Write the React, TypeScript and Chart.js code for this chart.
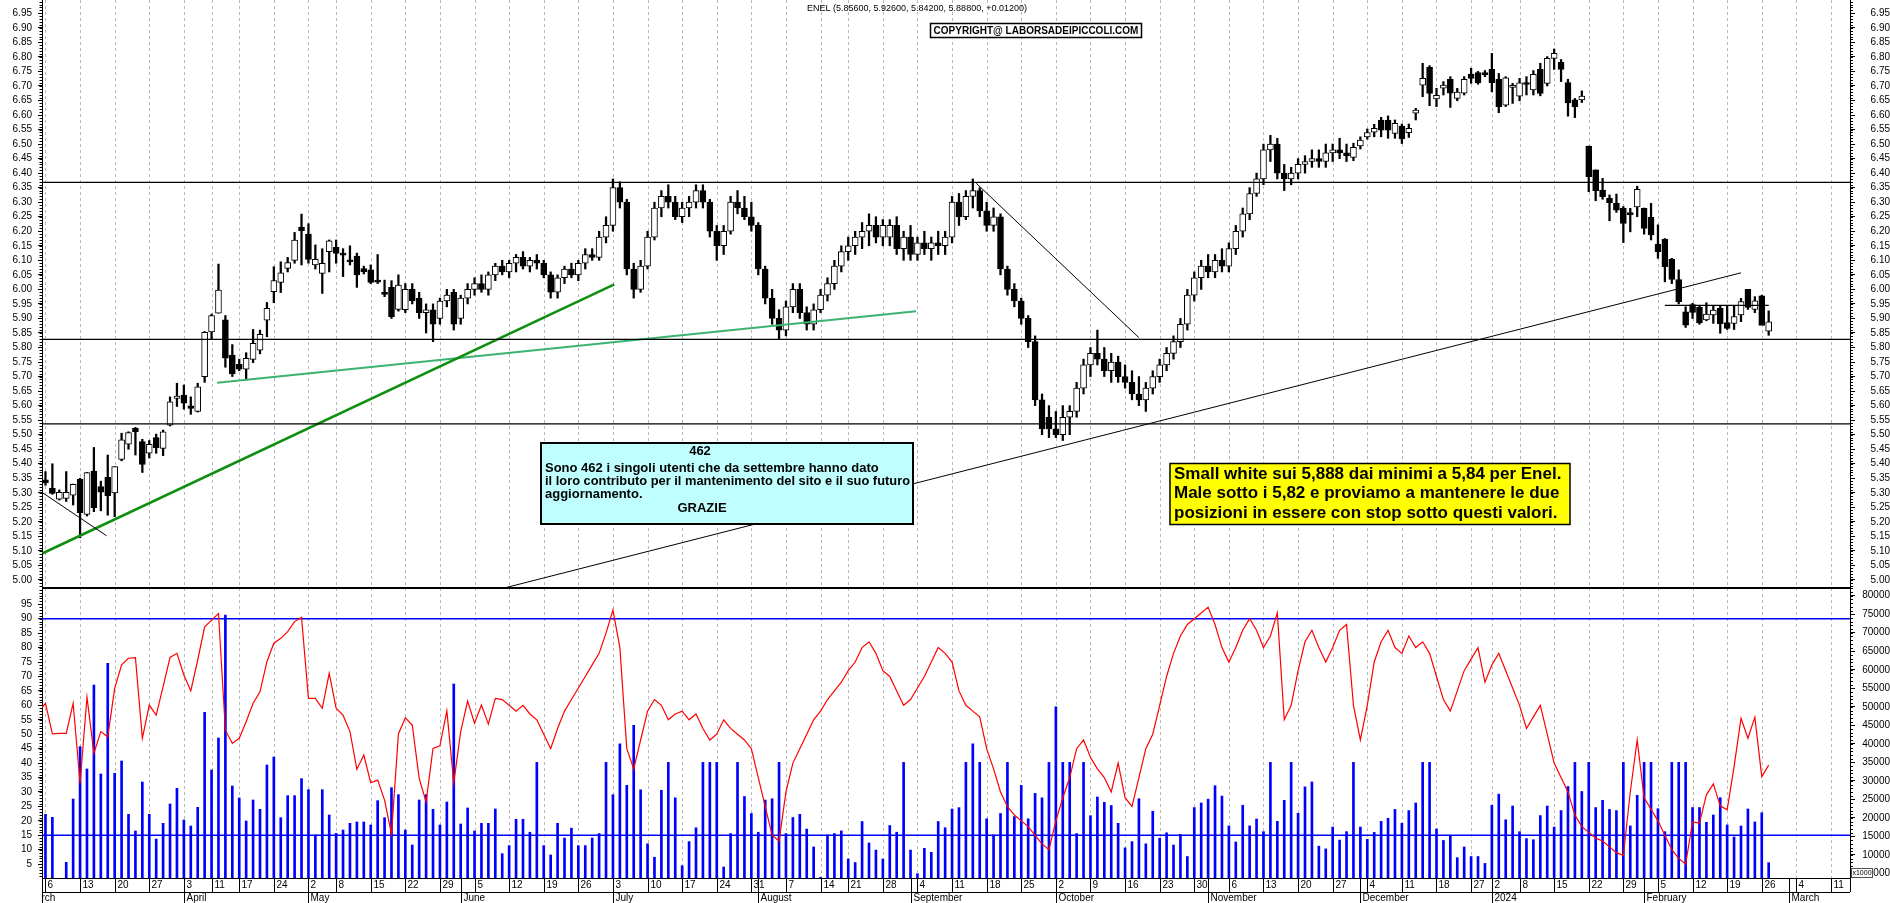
import { useEffect, useRef } from "react";
import { Chart, registerables } from "chart.js";

Chart.register(...registerables);

const FONT = "'Liberation Sans', Arial, Helvetica, sans-serif";

// ---------------- calendar (categories) ----------------
const AXIS_FIRST_DAY = "2023-03-01";
const FIRST_CANDLE_DAY = "2023-03-06";
const AXIS_LAST_DAY = "2024-03-15";
const MARKET_HOLIDAYS = ["2023-04-07", "2023-04-10", "2023-05-01", "2023-08-15", "2023-12-25", "2023-12-26", "2024-01-01"];
const MONTH_NAMES = ["January", "February", "March", "April", "May", "June", "July", "August", "September", "October", "November", "December"];

// ---------------- price series (one value per trading day from 2023-03-06) ----------------
const OPEN = [
  5.345, 5.315, 5.278, 5.281, 5.292, 5.346, 5.226, 5.375, 5.321, 5.353,
  5.30, 5.415, 5.467, 5.522, 5.476, 5.436, 5.49, 5.453, 5.533, 5.625,
  5.636, 5.599, 5.58, 5.70, 5.854, 5.918, 5.895, 5.774, 5.742, 5.725,
  5.759, 5.791, 5.894, 5.992, 6.024, 6.072, 6.10, 6.214, 6.19, 6.084,
  6.055, 6.13, 6.145, 6.122, 6.10, 6.115, 6.072, 6.067, 6.027, 5.985,
  6.007, 5.931, 5.93, 6.0, 5.97, 5.92, 5.93, 5.9, 5.96, 5.99,
  5.9, 5.97, 6.0, 6.02, 6.0, 6.05, 6.08, 6.06, 6.09, 6.11,
  6.08, 6.1, 6.09, 6.05, 5.99, 6.04, 6.07, 6.05, 6.09, 6.12,
  6.11, 6.18, 6.22, 6.35, 6.3, 6.07, 6.0, 6.08, 6.18, 6.28,
  6.32, 6.3, 6.25, 6.28, 6.3, 6.34, 6.3, 6.2, 6.15, 6.2,
  6.3, 6.28, 6.25, 6.22, 6.07, 5.97, 5.9, 5.86, 5.94, 6.0,
  5.92, 5.88, 5.93, 5.98, 6.02, 6.08, 6.13, 6.15, 6.18, 6.2,
  6.22, 6.18, 6.18, 6.22, 6.14, 6.18, 6.12, 6.16, 6.14, 6.16,
  6.15, 6.18, 6.3, 6.25, 6.32, 6.34, 6.27, 6.22, 6.25, 6.07,
  6.0, 5.96, 5.9, 5.82, 5.62, 5.56, 5.52, 5.5, 5.56, 5.58,
  5.66, 5.74, 5.78, 5.76, 5.72, 5.75, 5.7, 5.68, 5.64, 5.62,
  5.66, 5.7, 5.74, 5.78, 5.82, 5.88, 5.98, 6.04, 6.08, 6.06,
  6.1, 6.08, 6.14, 6.2, 6.26, 6.33, 6.38, 6.48, 6.5, 6.4,
  6.38, 6.4, 6.43, 6.44, 6.45, 6.44, 6.47, 6.48, 6.47, 6.454,
  6.494, 6.525, 6.541, 6.583, 6.582, 6.537, 6.562, 6.539, 6.606, 6.703,
  6.764, 6.655, 6.692, 6.723, 6.657, 6.675, 6.741, 6.746, 6.741, 6.757,
  6.723, 6.634, 6.695, 6.665, 6.712, 6.686, 6.757, 6.709, 6.795, 6.781,
  6.712, 6.652, 6.652, 6.493, 6.411, 6.342, 6.313, 6.296, 6.279, 6.259,
  6.284, 6.279, 6.248, 6.156, 6.172, 6.103, 6.034, 5.923, 5.948, 5.938,
  5.895, 5.912, 5.935, 5.886, 5.883, 5.912, 6.0, 5.931, 5.978, 5.856,
];
const HIGH = [
  5.373, 5.40, 5.31, 5.373, 5.33, 5.35, 5.37, 5.456, 5.34, 5.43,
  5.39, 5.505, 5.51, 5.525, 5.484, 5.48, 5.502, 5.516, 5.63, 5.677,
  5.671, 5.63, 5.677, 5.855, 5.915, 6.087, 5.91, 5.81, 5.76, 5.782,
  5.862, 5.86, 5.955, 6.078, 6.095, 6.11, 6.196, 6.259, 6.226, 6.153,
  6.14, 6.17, 6.17, 6.14, 6.15, 6.125, 6.08, 6.084, 6.12, 6.032,
  6.03, 6.05, 6.02, 6.02, 5.99, 5.95, 5.95, 5.97, 6.0, 6.0,
  5.98, 6.02, 6.04, 6.05, 6.06, 6.09, 6.1, 6.1, 6.12, 6.13,
  6.11, 6.12, 6.1, 6.06, 6.05, 6.08, 6.09, 6.1, 6.14, 6.14,
  6.2, 6.25, 6.38, 6.37, 6.31, 6.09, 6.1, 6.2, 6.3, 6.34,
  6.36, 6.32, 6.3, 6.32, 6.36, 6.36, 6.31, 6.22, 6.22, 6.32,
  6.34, 6.32, 6.3, 6.23, 6.08, 6.0, 5.93, 5.96, 6.02, 6.02,
  5.94, 5.95, 6.0, 6.04, 6.1, 6.15, 6.18, 6.2, 6.23, 6.26,
  6.25, 6.24, 6.24, 6.25, 6.2, 6.22, 6.18, 6.2, 6.18, 6.2,
  6.2, 6.32, 6.33, 6.34, 6.38, 6.35, 6.3, 6.28, 6.26, 6.08,
  6.02, 5.97, 5.91, 5.84, 5.64, 5.6, 5.58, 5.6, 5.6, 5.68,
  5.76, 5.8, 5.86, 5.8, 5.78, 5.77, 5.74, 5.72, 5.7, 5.68,
  5.72, 5.76, 5.8, 5.84, 5.9, 6.0, 6.06, 6.1, 6.12, 6.12,
  6.14, 6.16, 6.22, 6.28, 6.35, 6.4, 6.5, 6.53, 6.52, 6.43,
  6.42, 6.45, 6.46, 6.48, 6.48, 6.5, 6.5, 6.52, 6.5, 6.503,
  6.525, 6.552, 6.568, 6.592, 6.597, 6.583, 6.569, 6.569, 6.623, 6.778,
  6.77, 6.692, 6.715, 6.732, 6.692, 6.732, 6.761, 6.75, 6.753, 6.812,
  6.743, 6.732, 6.709, 6.726, 6.732, 6.753, 6.778, 6.801, 6.827, 6.791,
  6.723, 6.657, 6.683, 6.493, 6.411, 6.382, 6.325, 6.328, 6.285, 6.279,
  6.355, 6.28, 6.296, 6.222, 6.175, 6.107, 6.067, 5.94, 5.952, 5.943,
  5.954, 5.943, 5.943, 5.943, 5.943, 5.969, 6.0, 5.975, 5.98, 5.926,
];
const LOW = [
  5.326, 5.295, 5.275, 5.27, 5.258, 5.145, 5.22, 5.235, 5.238, 5.223,
  5.218, 5.41, 5.45, 5.43, 5.37, 5.42, 5.436, 5.428, 5.53, 5.597,
  5.588, 5.57, 5.578, 5.68, 5.83, 5.918, 5.732, 5.70, 5.72, 5.688,
  5.748, 5.778, 5.837, 5.954, 5.989, 6.06, 6.09, 6.084, 6.09, 6.07,
  5.986, 6.06, 6.09, 6.044, 6.084, 6.007, 6.053, 6.02, 6.02, 5.975,
  5.90, 5.925, 5.92, 5.95, 5.9, 5.85, 5.82, 5.88, 5.94, 5.86,
  5.88, 5.95, 5.98, 5.99, 5.98, 6.03, 6.05, 6.04, 6.06, 6.07,
  6.06, 6.07, 6.04, 5.97, 5.97, 6.02, 6.04, 6.03, 6.07, 6.1,
  6.1, 6.16, 6.2, 6.28, 6.05, 5.97, 5.99, 6.07, 6.17, 6.25,
  6.28, 6.24, 6.23, 6.25, 6.28, 6.28, 6.18, 6.1, 6.12, 6.19,
  6.26, 6.24, 6.2, 6.05, 5.95, 5.88, 5.83, 5.84, 5.92, 5.9,
  5.86, 5.86, 5.92, 5.96, 6.0, 6.06, 6.1, 6.12, 6.14, 6.15,
  6.16, 6.15, 6.15, 6.12, 6.1, 6.1, 6.1, 6.12, 6.1, 6.12,
  6.12, 6.16, 6.22, 6.24, 6.28, 6.25, 6.2, 6.2, 6.05, 5.98,
  5.94, 5.88, 5.8, 5.6, 5.5, 5.49, 5.49, 5.48, 5.5, 5.56,
  5.64, 5.7, 5.74, 5.7, 5.68, 5.68, 5.66, 5.62, 5.6, 5.58,
  5.64, 5.68, 5.72, 5.76, 5.8, 5.86, 5.96, 6.0, 6.04, 6.04,
  6.06, 6.06, 6.12, 6.18, 6.24, 6.32, 6.36, 6.44, 6.38, 6.34,
  6.36, 6.38, 6.4, 6.42, 6.42, 6.42, 6.44, 6.45, 6.44, 6.443,
  6.483, 6.517, 6.525, 6.525, 6.52, 6.52, 6.502, 6.523, 6.583, 6.663,
  6.632, 6.629, 6.669, 6.626, 6.649, 6.669, 6.709, 6.706, 6.732, 6.68,
  6.608, 6.629, 6.64, 6.649, 6.669, 6.669, 6.666, 6.70, 6.757, 6.715,
  6.596, 6.591, 6.643, 6.336, 6.305, 6.31, 6.236, 6.265, 6.161, 6.198,
  6.25, 6.19, 6.17, 6.107, 6.026, 6.02, 5.95, 5.869, 5.90, 5.88,
  5.892, 5.883, 5.849, 5.862, 5.862, 5.889, 5.931, 5.92, 5.88, 5.842,
];
const CLOSE = [
  5.335, 5.298, 5.302, 5.302, 5.329, 5.232, 5.37, 5.249, 5.302, 5.29,
  5.39, 5.482, 5.507, 5.51, 5.398, 5.467, 5.455, 5.51, 5.613, 5.633,
  5.608, 5.59, 5.665, 5.852, 5.91, 5.998, 5.763, 5.709, 5.725, 5.763,
  5.814, 5.845, 5.935, 6.03, 6.057, 6.092, 6.17, 6.202, 6.103, 6.103,
  6.09, 6.167, 6.124, 6.118, 6.095, 6.05, 6.061, 6.024, 6.025, 5.983,
  5.906, 6.015, 6.0, 5.96, 5.92, 5.93, 5.88, 5.96, 5.98, 5.88,
  5.97, 6.0, 6.02, 6.0, 6.05, 6.08, 6.06, 6.09, 6.11, 6.08,
  6.1, 6.09, 6.05, 5.99, 6.04, 6.07, 6.05, 6.09, 6.12, 6.11,
  6.18, 6.22, 6.35, 6.3, 6.07, 6.0, 6.08, 6.18, 6.28, 6.32,
  6.3, 6.25, 6.28, 6.3, 6.34, 6.3, 6.2, 6.15, 6.2, 6.3,
  6.28, 6.25, 6.22, 6.07, 5.97, 5.9, 5.86, 5.94, 6.0, 5.92,
  5.88, 5.93, 5.98, 6.02, 6.08, 6.13, 6.15, 6.18, 6.2, 6.22,
  6.18, 6.22, 6.22, 6.14, 6.18, 6.12, 6.16, 6.14, 6.16, 6.15,
  6.18, 6.3, 6.25, 6.32, 6.34, 6.27, 6.22, 6.25, 6.07, 6.0,
  5.96, 5.9, 5.82, 5.62, 5.52, 5.52, 5.5, 5.56, 5.58, 5.66,
  5.74, 5.78, 5.76, 5.72, 5.75, 5.7, 5.68, 5.64, 5.62, 5.66,
  5.7, 5.74, 5.78, 5.82, 5.88, 5.98, 6.04, 6.08, 6.06, 6.1,
  6.08, 6.14, 6.2, 6.26, 6.33, 6.38, 6.48, 6.5, 6.4, 6.38,
  6.4, 6.43, 6.44, 6.45, 6.44, 6.47, 6.48, 6.47, 6.46, 6.489,
  6.514, 6.54, 6.554, 6.548, 6.548, 6.571, 6.518, 6.554, 6.617, 6.726,
  6.674, 6.668, 6.703, 6.675, 6.679, 6.723, 6.726, 6.711, 6.739, 6.711,
  6.629, 6.728, 6.695, 6.711, 6.705, 6.74, 6.674, 6.795, 6.812, 6.757,
  6.642, 6.629, 6.665, 6.388, 6.34, 6.319, 6.298, 6.273, 6.227, 6.257,
  6.344, 6.21, 6.187, 6.13, 6.078, 6.034, 5.958, 5.877, 5.921, 5.885,
  5.915, 5.929, 5.881, 5.866, 5.906, 5.958, 5.938, 5.961, 5.876, 5.888,
];
const VOLUME = [
  20970, 20160, 3000, 8010, 25110, 39240, 33210, 55890, 31860, 61740,
  32040, 35370, 20970, 16470, 29700, 20970, 14310, 18540, 23760, 27990,
  19440, 17820, 22860, 48500, 32940, 41580, 74790, 28620, 25380, 19170,
  24840, 22320, 34290, 36450, 20070, 26010, 26010, 30600, 27630, 15390,
  27630, 20790, 15840, 16740, 18540, 18900, 18900, 18090, 24660, 20070,
  28170, 26280, 16740, 12690, 24840, 26280, 22320, 18090, 24300, 56160,
  18360, 22680, 16470, 18540, 18540, 22410, 10360, 12530, 19640, 19640,
  16140, 35000, 12530, 10000, 18550, 14570, 17230, 12530, 12530, 14570,
  15780, 35000, 26260, 40000, 28800, 45000, 27590, 13010, 9390, 27470,
  35000, 25420, 7100, 13610, 17350, 35000, 35000, 35000, 6740, 15780,
  35000, 25780, 21200, 16140, 24820, 25180, 35000, 15780, 20120, 20960,
  16980, 12160, 3970, 15420, 15780, 16500, 8910, 7950, 19030, 13250,
  11320, 8910, 17950, 16140, 35000, 11320, 4930, 11800, 10720, 19030,
  17350, 22410, 22770, 35000, 40000, 35000, 19760, 15420, 21200, 35000,
  20360, 28790, 19760, 26620, 25420, 35000, 50000, 35000, 35000, 15780,
  35000, 20600, 25660, 24210, 23370, 18550, 11920, 13610, 25180, 13010,
  21800, 14540, 15980, 12680, 15570, 9580, 22800, 24040, 25070, 28690,
  25900, 17840, 13500, 23420, 17840, 19700, 16290, 35000, 19080, 24760,
  35000, 21250, 28380, 29720, 12370, 11650, 17530, 14020, 16290, 35000,
  17530, 14230, 16090, 19080, 19910, 22290, 18570, 21980, 24040, 35000,
  35000, 17020, 13920, 15260, 9270, 12160, 9580, 9580, 7720, 23420,
  26420, 19500, 23220, 16290, 14430, 14120, 20630, 23220, 17530, 21980,
  28480, 35000, 27140, 35000, 22800, 24760, 22290, 21980, 35000, 17840,
  26110, 35000, 35000, 22490, 16290, 35000, 35000, 35000, 22800, 22800,
  18820, 20790, 25460, 18090, 14850, 17810, 22410, 18910, 21410, 7910,
];
// oscillator: first value belongs to the trading day before the first candle
const OSC_FIRST_INDEX = -1;
const OSC = [
  57.8,
  60.7, 50.1, 50.3, 50.3, 60.7, 33, 62.8, 43.4, 50.9, 49.1,
  65.9, 74, 76.3, 76.5, 48.6, 60.1, 56.6, 66.5, 76.6, 78,
  70.5, 65, 75.7, 87.2, 89.5, 91.8, 51.4, 46.8, 48.6, 54.3,
  60.7, 64.7, 75.1, 81.5, 83.2, 85.5, 89, 90.5, 62.4, 62.4,
  59, 71.1, 59, 56.6, 50.9, 37.8, 42.8, 33.2, 34.1, 27.2,
  15.4, 50.1, 55.7, 53.2, 34.7, 26.6, 45.1, 46, 58.1, 33.2,
  50.9, 61.5, 53.8, 60.1, 53.5, 62.4, 62, 60, 58, 60,
  57, 55, 50, 45, 52, 58, 62, 66, 70, 74,
  78, 85, 93, 80, 45, 38, 48, 58, 62, 60,
  55, 57, 58, 55, 57, 52, 48, 50, 55, 52,
  50, 48, 45, 35, 25, 15, 13, 30, 40, 45,
  50, 55, 58, 62, 65, 68, 72, 75, 80, 82,
  78, 72, 70, 65, 60, 62, 66, 70, 75, 80,
  78, 75, 65, 60, 58, 56, 45, 38, 30, 25,
  22, 20, 18, 15, 12, 10, 20, 28, 35, 45,
  48, 42, 38, 35, 30, 40, 28, 25, 35, 45,
  50, 60, 70, 78, 84, 88, 90, 92, 94, 88,
  80, 75, 80, 86, 90, 86, 80, 84, 92, 55,
  60, 72, 82, 86, 80, 75, 80, 86, 88, 60,
  48, 60, 75, 82, 86, 80, 78, 84, 80, 82,
  78, 70, 62, 58, 65, 72, 76, 80, 68, 74,
  78, 72, 66, 60, 52, 56, 60, 50, 40, 35,
  30, 22, 18, 16, 14, 13, 11, 9, 8, 30,
  48, 28, 24, 20, 15, 10, 7, 5, 19.6, 19.2,
  29, 32.8, 25.2, 23.8, 38.8, 55.5, 48.6, 55.9, 35.3, 39.3,
];

// ---------------- drawn levels and trend lines (data units: day index, value) ----------------
const PRICE_LEVELS = [6.368, 5.828, 5.537];
const OSC_LEVELS = [90, 15];
const VOL_TICK_STEP = 5000;
const TREND_LINES = [
  { from: [-0.4, 5.3], to: [8.84, 5.152], color: "#000000", width: 1 },
  { from: [-0.4, 5.092], to: [82.2, 6.017], color: "#0f8f0f", width: 2.5 },
  { from: [24.8, 5.679], to: [125.8, 5.925], color: "#3cb371", width: 2 },
  { from: [134.5, 6.365], to: [158, 5.834], color: "#000000", width: 1 },
  { from: [66.3, 4.9724], to: [245, 6.057], color: "#000000", width: 1 },
  { from: [234, 5.945], to: [249, 5.945], color: "#000000", width: 1.2 },
];

const TITLE = "ENEL (5.85600, 5.92600, 5.84200, 5.88800, +0.01200)";
const COPYRIGHT = "COPYRIGHT@ LABORSADEIPICCOLI.COM";
const NOTE_CYAN = ["462", "Sono 462 i singoli utenti che da settembre hanno dato", "il loro contributo per il mantenimento del sito e il suo futuro", "aggiornamento.", "GRAZIE"];
const NOTE_YELLOW = ["Small white sui 5,888 dai minimi a 5,84 per Enel.", "Male sotto i 5,82 e proviamo a mantenere le due", "posizioni in essere con stop sotto questi valori."];

// ---------------- axis ranges ----------------
const X_MIN = -0.5;
const X_MAX = 260.75;
const PRICE_MIN = 4.9724;
const PRICE_MAX = 6.9958;
const OSC_MIN = 0.21;
const OSC_MAX = 100.63;
const VOL_MIN = 3779;
const VOL_MAX = 82079;

type AxisDay = { idx: number; day: number; month: number; year: number; weekStart: boolean; monthStart: boolean };

function isoKey(d: Date) {
  return d.toISOString().slice(0, 10);
}
function mondayKey(d: Date) {
  const t = new Date(d.getTime());
  t.setUTCDate(t.getUTCDate() - ((t.getUTCDay() + 6) % 7));
  return isoKey(t);
}
function buildAxisDays(): AxisDay[] {
  const hol = new Set(MARKET_HOLIDAYS);
  const list: Date[] = [];
  const d = new Date(AXIS_FIRST_DAY + "T00:00:00Z");
  const end = new Date(AXIS_LAST_DAY + "T00:00:00Z");
  while (d.getTime() <= end.getTime()) {
    const wd = d.getUTCDay();
    if (wd !== 0 && wd !== 6 && !hol.has(isoKey(d))) list.push(new Date(d.getTime()));
    d.setUTCDate(d.getUTCDate() + 1);
  }
  const first = list.findIndex((x) => isoKey(x) === FIRST_CANDLE_DAY);
  return list.map((x, k) => {
    const prev = k > 0 ? list[k - 1] : null;
    return {
      idx: k - first,
      day: x.getUTCDate(),
      month: x.getUTCMonth(),
      year: x.getUTCFullYear(),
      weekStart: !prev || mondayKey(prev) !== mondayKey(x),
      monthStart: !prev || prev.getUTCMonth() !== x.getUTCMonth(),
    };
  });
}

function drawMinorTicks(ctx: CanvasRenderingContext2D, scale: any, step: number, len: number, side: "left" | "right") {
  const n0 = Math.ceil(scale.min / step - 1e-9);
  const n1 = Math.floor(scale.max / step + 1e-9);
  ctx.save();
  ctx.strokeStyle = "#000";
  ctx.lineWidth = 1;
  ctx.beginPath();
  for (let n = n0; n <= n1; n++) {
    const y = Math.round(scale.getPixelForValue(n * step)) + 0.5;
    if (side === "left") {
      ctx.moveTo(scale.right - len, y);
      ctx.lineTo(scale.right, y);
    } else {
      ctx.moveTo(scale.left, y);
      ctx.lineTo(scale.left + len, y);
    }
  }
  ctx.stroke();
  ctx.restore();
}

function weekGridPlugin(days: AxisDay[]) {
  return {
    id: "weekGrid",
    beforeDatasetsDraw(chart: any) {
      const { ctx, chartArea, scales } = chart;
      ctx.save();
      ctx.strokeStyle = "#b8b8b8";
      ctx.lineWidth = 1;
      ctx.setLineDash([3, 3]);
      ctx.beginPath();
      for (const d of days) {
        if (!d.weekStart) continue;
        const x = Math.round(scales.x.getPixelForValue(d.idx)) + 0.5;
        if (x <= chartArea.left + 1 || x >= chartArea.right - 1) continue;
        ctx.moveTo(x, chartArea.top);
        ctx.lineTo(x, chartArea.bottom);
      }
      ctx.stroke();
      ctx.restore();
    },
  };
}

function valueAxis(position: "left" | "right", min: number, max: number, step: number, fmt: (v: number) => string, extra: any = {}) {
  const left = position === "left";
  return {
    type: "linear",
    axis: "y",
    position,
    min,
    max,
    beginAtZero: false,
    afterFit(s: any) {
      s.width = left ? 42 : 40;
      s.paddingTop = 0;
      s.paddingBottom = 0;
    },
    ticks: {
      stepSize: step,
      autoSkip: false,
      includeBounds: false,
      padding: left ? 6 : extra.padding,
      crossAlign: left ? "near" : "far",
      color: "#000",
      font: { family: FONT, size: 10 },
      callback: (v: any) => fmt(Number(v)),
    },
    grid: { drawOnChartArea: false, drawTicks: true, tickLength: left ? 4 : 5, tickColor: "#000", tickWidth: 1 },
    border: { display: true, color: "#000", width: 1 },
    ...(extra.afterBuildTicks ? { afterBuildTicks: extra.afterBuildTicks } : {}),
  };
}

export default function App() {
  const topRef = useRef<HTMLCanvasElement>(null);
  const botRef = useRef<HTMLCanvasElement>(null);

  useEffect(() => {
    if (!topRef.current || !botRef.current) return;
    Chart.defaults.font.family = FONT;
    const days = buildAxisDays();
    const n = Math.min(OPEN.length, HIGH.length, LOW.length, CLOSE.length);
    const idx = Array.from({ length: n }, (_, i) => i);

    const wickData = idx.map((i) => ({ x: i, y: [LOW[i], HIGH[i]] }));
    const bodyData = idx.map((i) => ({ x: i, y: [Math.min(OPEN[i], CLOSE[i]), Math.max(OPEN[i], CLOSE[i])] }));
    const bodyColors = idx.map((i) => (CLOSE[i] >= OPEN[i] ? "#ffffff" : "#000000"));

    const lineDs = (data: any[], color: string, width: number, yAxisID: string, order: number) => ({
      type: "line",
      data,
      borderColor: color,
      borderWidth: width,
      pointRadius: 0,
      tension: 0,
      fill: false,
      yAxisID,
      order,
    });

    const topDatasets: any[] = [
      ...PRICE_LEVELS.map((v) => lineDs([{ x: X_MIN, y: v }, { x: X_MAX, y: v }], "#000000", 1.3, "yPrice", 0)),
      ...TREND_LINES.map((t) => lineDs([{ x: t.from[0], y: t.from[1] }, { x: t.to[0], y: t.to[1] }], t.color, t.width, "yPrice", 0)),
      {
        type: "bar",
        data: bodyData,
        backgroundColor: bodyColors,
        borderColor: "#000000",
        borderWidth: 1,
        borderSkipped: false,
        barThickness: 6,
        minBarLength: 2,
        grouped: false,
        yAxisID: "yPrice",
        order: 1,
      },
      {
        type: "bar",
        data: wickData,
        backgroundColor: "#000000",
        barThickness: 1.6,
        grouped: false,
        yAxisID: "yPrice",
        order: 2,
      },
    ];

    const topOverlay = {
      id: "topOverlay",
      afterDraw(chart: any) {
        const { ctx, scales, chartArea } = chart;
        drawMinorTicks(ctx, scales.yPrice, 0.01, 2.5, "left");
        drawMinorTicks(ctx, scales.yPrice2, 0.01, 3, "right");
        ctx.save();
        ctx.strokeStyle = "#000";
        ctx.lineWidth = 1;
        ctx.beginPath();
        ctx.moveTo(chartArea.left, chartArea.bottom - 0.5);
        ctx.lineTo(chartArea.right, chartArea.bottom - 0.5);
        ctx.stroke();

        ctx.fillStyle = "#000";
        ctx.textBaseline = "middle";
        ctx.textAlign = "left";
        ctx.font = `9px ${FONT}`;
        ctx.fillText(TITLE, 807, 8.5);

        // copyright label
        ctx.fillStyle = "#ffffff";
        ctx.fillRect(930.5, 23.5, 211, 14);
        ctx.lineWidth = 1.5;
        ctx.strokeRect(930.5, 23.5, 211, 14);
        ctx.fillStyle = "#000";
        ctx.font = `bold 10px ${FONT}`;
        ctx.textAlign = "center";
        ctx.fillText(COPYRIGHT, 1036, 31);

        // cyan note
        ctx.fillStyle = "#c0ffff";
        ctx.fillRect(541, 443, 372, 81);
        ctx.lineWidth = 2;
        ctx.strokeStyle = "#000";
        ctx.strokeRect(541, 443, 372, 81);
        ctx.fillStyle = "#000";
        ctx.font = `bold 13px ${FONT}`;
        ctx.textAlign = "center";
        ctx.fillText(NOTE_CYAN[0], 700, 451);
        ctx.textAlign = "left";
        ctx.fillText(NOTE_CYAN[1], 545, 468, 365);
        ctx.fillText(NOTE_CYAN[2], 545, 481.3, 365);
        ctx.fillText(NOTE_CYAN[3], 545, 494.6, 365);
        ctx.textAlign = "center";
        ctx.fillText(NOTE_CYAN[4], 702, 508);

        // yellow note
        ctx.fillStyle = "#ffff00";
        ctx.fillRect(1170, 463.5, 400, 61);
        ctx.lineWidth = 1.5;
        ctx.strokeRect(1170, 463.5, 400, 61);
        ctx.fillStyle = "#000";
        ctx.font = `bold 17px ${FONT}`;
        ctx.textAlign = "left";
        NOTE_YELLOW.forEach((t, k) => ctx.fillText(t, 1174, 474 + k * 19.5, 393));
        ctx.restore();
      },
    };

    const top = new Chart(topRef.current, {
      type: "bar",
      data: { datasets: topDatasets },
      options: {
        animation: false,
        responsive: false,
        events: [],
        layout: { padding: 0 },
        plugins: { legend: { display: false }, tooltip: { enabled: false } },
        scales: {
          x: { type: "linear", axis: "x", display: false, min: X_MIN, max: X_MAX, offset: false },
          yPrice: valueAxis("left", PRICE_MIN, PRICE_MAX, 0.05, (v) => v.toFixed(2)),
          yPrice2: valueAxis("right", PRICE_MIN, PRICE_MAX, 0.05, (v) => v.toFixed(2), { padding: 13.5 }),
        },
      } as any,
      plugins: [weekGridPlugin(days), topOverlay],
    } as any);

    // ---------- lower panel ----------
    const volData = idx.filter((i) => i < VOLUME.length).map((i) => ({ x: i, y: VOLUME[i] }));
    const oscData = OSC.map((v, k) => ({ x: k + OSC_FIRST_INDEX, y: v }));
    const botDatasets: any[] = [
      lineDs(oscData, "#ff0000", 1.2, "yOsc", 0),
      ...OSC_LEVELS.map((v) => lineDs([{ x: X_MIN, y: v }, { x: X_MAX, y: v }], "#0000ff", 1.5, "yOsc", 1)),
      {
        type: "bar",
        data: volData,
        backgroundColor: "#0000ff",
        barThickness: 2,
        grouped: false,
        yAxisID: "yVol",
        order: 2,
      },
    ];

    const dateAxis = {
      id: "dateAxis",
      afterDraw(chart: any) {
        const { ctx, scales, chartArea } = chart;
        drawMinorTicks(ctx, scales.yOsc, 1, 2.5, "left");
        drawMinorTicks(ctx, scales.yVol, 1000, 3, "right");
        const L = chartArea.left;
        const R = chartArea.right;
        const B = chartArea.bottom;
        const row = B + 14;
        const H = chart.height;
        const seg = (x1: number, y1: number, x2: number, y2: number) => {
          ctx.beginPath();
          ctx.moveTo(x1, y1);
          ctx.lineTo(x2, y2);
          ctx.stroke();
        };
        ctx.save();
        ctx.strokeStyle = "#000";
        ctx.lineWidth = 1;
        seg(L, 0.5, R, 0.5);
        seg(L, B + 0.5, R, B + 0.5);
        seg(L, row + 0.5, R, row + 0.5);
        seg(L + 0.5, B, L + 0.5, H);
        seg(R + 0.5, B, R + 0.5, row);

        // x1000 tag
        ctx.fillStyle = "#ffffff";
        ctx.fillRect(1851.5, 280.5, 21, 9);
        ctx.strokeStyle = "#505050";
        ctx.strokeRect(1851.5, 280.5, 21, 9);
        ctx.fillStyle = "#000";
        ctx.font = `7px ${FONT}`;
        ctx.textAlign = "center";
        ctx.textBaseline = "middle";
        ctx.fillText("x1000", 1862, 285.5);

        ctx.beginPath();
        ctx.rect(L, B, R - L, H - B);
        ctx.clip();
        ctx.strokeStyle = "#000";
        ctx.font = `10px ${FONT}`;
        ctx.textAlign = "left";
        for (const d of days) {
          const px = Math.round(scales.x.getPixelForValue(d.idx)) + 0.5;
          if (d.weekStart) {
            seg(px, B, px, row);
            ctx.fillText(String(d.day), px + 2, B + 7.5);
          }
          if (d.monthStart) {
            seg(px, B, px, H);
            const label = d.month === 0 ? String(d.year) : MONTH_NAMES[d.month];
            ctx.fillText(label, px + 2, row + 6);
          }
        }
        ctx.restore();
      },
    };

    const bot = new Chart(botRef.current, {
      type: "bar",
      data: { datasets: botDatasets },
      options: {
        animation: false,
        responsive: false,
        events: [],
        layout: { padding: { left: 0, right: 0, top: 0, bottom: 25 } },
        plugins: { legend: { display: false }, tooltip: { enabled: false } },
        scales: {
          x: { type: "linear", axis: "x", display: false, min: X_MIN, max: X_MAX, offset: false },
          yOsc: valueAxis("left", OSC_MIN, OSC_MAX, 5, (v) => String(Math.round(v)), {
            afterBuildTicks: (s: any) => {
              s.ticks = s.ticks.filter((t: any) => t.value >= 5 && t.value <= 95);
            },
          }),
          yVol: valueAxis("right", VOL_MIN, VOL_MAX, VOL_TICK_STEP, (v) => String(Math.round(v)), {
            padding: 5.2,
            afterBuildTicks: (s: any) => {
              const ticks: any[] = [];
              for (let v = Math.ceil(VOL_MIN / VOL_TICK_STEP) * VOL_TICK_STEP; v <= VOL_MAX; v += VOL_TICK_STEP) ticks.push({ value: v });
              s.ticks = ticks;
            },
          }),
        },
      } as any,
      plugins: [weekGridPlugin(days), dateAxis],
    } as any);

    return () => {
      top.destroy();
      bot.destroy();
    };
  }, []);

  return (
    <div style={{ position: "absolute", left: 0, top: 0, width: 1890, height: 903, background: "#ffffff", overflow: "hidden" }}>
      <canvas ref={topRef} width={1890} height={588} style={{ display: "block", width: 1890, height: 588 }} />
      <canvas ref={botRef} width={1890} height={315} style={{ display: "block", width: 1890, height: 315 }} />
    </div>
  );
}
